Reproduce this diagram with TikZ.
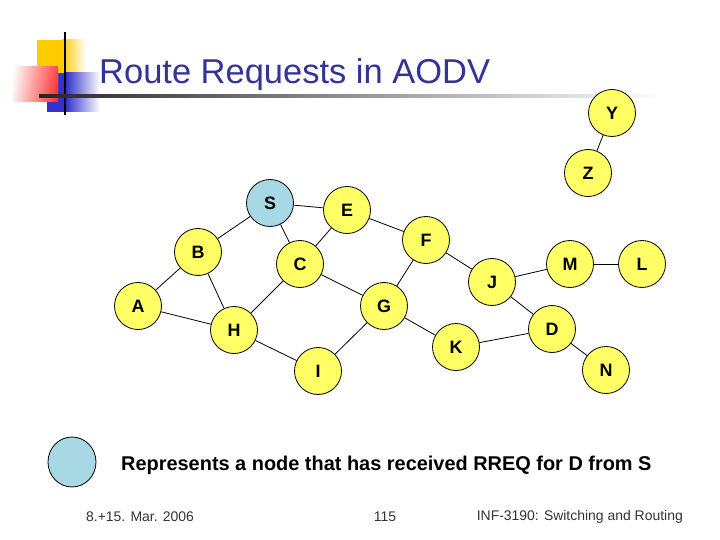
\documentclass[tikz,border=0pt]{standalone}
\usepackage{fontspec}
\setmainfont{Liberation Sans}
\usepackage{tikz}
\usetikzlibrary{shapes.geometric,shadings}
\usepackage{xcolor}
\definecolor{nodefill}{HTML}{FFFF66}
\definecolor{rreqfill}{HTML}{A8D8E4}
\definecolor{titleblue}{HTML}{333399}
\definecolor{deckyellow}{HTML}{FFCC00}
\definecolor{deckred}{HTML}{FF1A1A}
\definecolor{deckblue}{HTML}{3333CC}

\begin{document}
\begin{tikzpicture}[x=1bp, y=-1bp,
  netnode/.style={circle, draw=black, line width=0.8bp, fill=nodefill, minimum size=47bp,
    inner sep=0pt, font=\bfseries\fontsize{18}{18}\selectfont},
  link/.style={line width=0.8bp}]
  \useasboundingbox[fill=white] (0,0) rectangle (720,540);
  % Kopfzeile: Farbquadrate und Linien
  \fill[deckyellow] (37,40) rectangle (62,73);
  \shade[left color=deckyellow, right color=white] (62,40) rectangle (86,73);
  \fill[deckblue] (47,73) rectangle (66,112);
  \shade[left color=deckblue, right color=white] (66,73) rectangle (100,112);
  \shade[lower left=deckred!40!white, upper right=white, lower right=deckred!70!white, upper left=white]
    (13,67) rectangle (58,102);
  \shade[left color=white, right color=deckred, opacity=0.8] (13,67) rectangle (58,102);
  \draw[line width=2.2bp] (65,32) -- (65,115);
  \shade[left color=black!85, right color=white] (39,95) rectangle (665,98);
  \node[anchor=base west, inner sep=0pt, text=titleblue, font=\fontsize{34.6}{35}\selectfont]
    (title) at (99,84) {Route Requests in AODV};
  % Knoten des Netzes
  \node[netnode] (Y) at (612,113) {Y};
  \node[netnode] (Z) at (588,173) {Z};
  \node[netnode, fill=rreqfill] (S) at (270,203) {S};
  \node[netnode] (E) at (347,210) {E};
  \node[netnode] (F) at (426,240) {F};
  \node[netnode] (B) at (198,252) {B};
  \node[netnode] (C) at (300,264) {C};
  \node[netnode] (M) at (570,264) {M};
  \node[netnode] (L) at (642,264) {L};
  \node[netnode] (J) at (492,282) {J};
  \node[netnode] (A) at (138,306) {A};
  \node[netnode] (G) at (384,306) {G};
  \node[netnode] (H) at (234,330) {H};
  \node[netnode] (D) at (552,329) {D};
  \node[netnode] (K) at (456,347) {K};
  \node[netnode] (I) at (318,371) {I};
  \node[netnode] (N) at (606,370) {N};
  % Verbindungen
  \foreach \a/\b in {S/E, S/B, S/C, E/C, E/F, B/A, B/H, A/H, C/H, C/G, F/G, F/J,
                     G/I, G/K, H/I, K/D, J/D, J/M, M/L, D/N, Y/Z}
    \draw[link] (\a) -- (\b);
  % Legende
  \node[ellipse, draw=black, line width=0.8bp, fill=rreqfill, minimum width=48bp, minimum height=50bp]
    (legend) at (72,462) {};
  \node[anchor=west, inner sep=0pt, font=\bfseries\fontsize{20}{20}\selectfont]
    (legendtext) at (121,465) {Represents a node that has received RREQ for D from S};
  % Fusszeile
  \node[anchor=west, inner sep=0pt, text=black!80, font=\fontsize{14}{14}\selectfont]
    (date) at (86,517) {8.+15. Mar. 2006};
  \node[inner sep=0pt, text=black!80, font=\fontsize{14}{14}\selectfont]
    (page) at (385,517) {115};
  \node[anchor=east, inner sep=0pt, text=black!80, font=\fontsize{14}{14}\selectfont]
    (course) at (683,517) {INF-3190: Switching and Routing};
\end{tikzpicture}
\end{document}
